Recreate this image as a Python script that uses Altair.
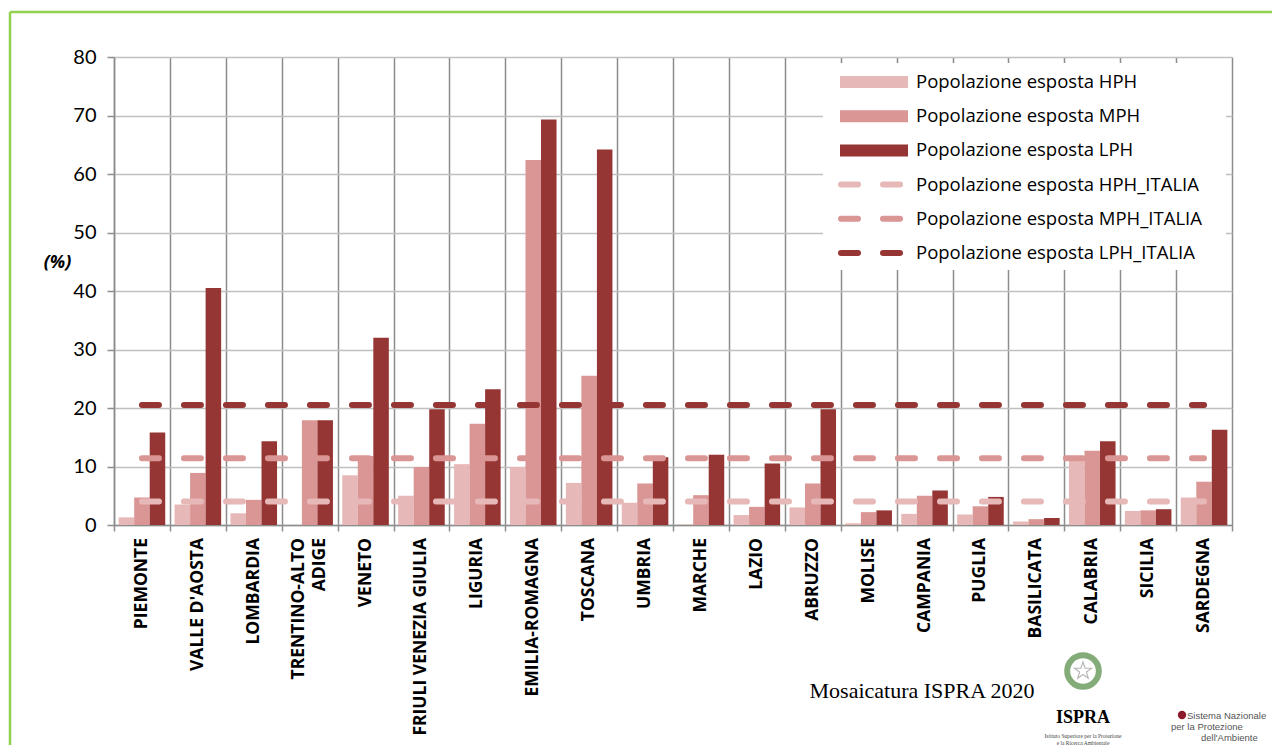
import altair as alt
import pandas as pd

regions = ["PIEMONTE", "VALLE D'AOSTA", "LOMBARDIA", "TRENTINO-ALTO|ADIGE", "VENETO",
           "FRIULI VENEZIA GIULIA", "LIGURIA", "EMILIA-ROMAGNA", "TOSCANA", "UMBRIA",
           "MARCHE", "LAZIO", "ABRUZZO", "MOLISE", "CAMPANIA", "PUGLIA", "BASILICATA",
           "CALABRIA", "SICILIA", "SARDEGNA"]
hph = [1.3, 3.5, 2.0, 0.0, 8.5, 5.0, 10.4, 9.9, 7.2, 3.8, 0.1, 1.7, 3.0, 0.3, 1.9, 1.8, 0.6, 11.3, 2.4, 4.7]
mph = [4.7, 8.9, 4.3, 17.9, 11.8, 9.9, 17.3, 62.4, 25.5, 7.1, 5.1, 3.1, 7.1, 2.2, 5.0, 3.2, 1.0, 12.7, 2.5, 7.4]
lph = [15.8, 40.5, 14.3, 17.9, 32.0, 19.8, 23.2, 69.3, 64.2, 11.6, 12.0, 10.5, 19.8, 2.5, 5.9, 4.8, 1.2, 14.3, 2.7, 16.3]
italia = [4.0, 11.4, 20.5]

bar_series = ["Popolazione esposta HPH", "Popolazione esposta MPH", "Popolazione esposta LPH"]
line_series = ["Popolazione esposta HPH_ITALIA", "Popolazione esposta MPH_ITALIA", "Popolazione esposta LPH_ITALIA"]
palette = ["#E6B8B7", "#DA9694", "#963634"]

bars_df = pd.DataFrame(
    [{"region": r, "series": s, "value": v}
     for s, vals in zip(bar_series, [hph, mph, lph])
     for r, v in zip(regions, vals)]
)
lines_df = pd.DataFrame(
    [{"region": r, "series": s, "value": it}
     for s, it in zip(line_series, italia)
     for r in regions]
)
regions_df = pd.DataFrame({"region": regions})
legend_df = pd.DataFrame({"series": bar_series + line_series, "row": list(range(6))})

color_scale = alt.Scale(domain=bar_series + line_series, range=palette + palette)

FONT = "Open Sans"
GRID_V = "#8c8c8c"
GRID_H = "#c0c0c0"

x_enc = alt.X(
    "region:N", sort=regions,
    scale=alt.Scale(paddingInner=0, paddingOuter=0),
    axis=alt.Axis(
        title=None, labels=False,
        tickBand="extent", tickSize=6, tickColor=GRID_V, tickWidth=1.5,
        grid=True, gridColor=GRID_V, gridWidth=1.5,
        domainColor=GRID_V, domainWidth=1.5,
    ),
)
y_scale = alt.Scale(domain=[0, 80], nice=False)
y_axis = alt.Axis(
    values=list(range(0, 81, 10)), title="(%)",
    labelFont="Lato", labelFontSize=20, labelColor="black", labelPadding=11,
    tickSize=7, tickColor=GRID_V, tickWidth=1.5,
    grid=True, gridColor=GRID_H, gridWidth=1.5,
    domainColor=GRID_V, domainWidth=1.5,
    titleFont=FONT, titleFontSize=18, titleFontStyle="italic", titleFontWeight="bold",
    titleColor="black", titleAngle=0, titleX=-57, titleY=205,
    titleAlign="center", titleBaseline="middle",
)

bars = alt.Chart(bars_df).mark_bar().encode(
    x=x_enc,
    xOffset=alt.XOffset("series:N", sort=bar_series, scale=alt.Scale(paddingInner=0, paddingOuter=0.3)),
    y=alt.Y("value:Q", scale=y_scale, axis=y_axis),
    color=alt.Color("series:N", scale=color_scale, legend=None),
)

lines = alt.Chart(lines_df).mark_line(strokeWidth=6, strokeDash=[17, 25], strokeCap="round").encode(
    x=alt.X("region:N", sort=regions),
    y=alt.Y("value:Q", scale=y_scale),
    color=alt.Color("series:N", scale=color_scale, legend=None),
    detail="series:N",
)

# category labels (rotated), the two-line one centred on its band
lab_style = dict(font=FONT, fontWeight="bold", fontSize=17.5, color="black",
                 angle=270, align="right", baseline="middle", lineBreak="|", lineHeight=21)
labels_single = alt.Chart(regions_df).transform_filter("indexof(datum.region, '|') < 0").mark_text(**lab_style).encode(
    x=alt.X("region:N", sort=regions), y=alt.value(481), text="region:N"
)
labels_multi = alt.Chart(regions_df).transform_filter("indexof(datum.region, '|') >= 0").mark_text(dy=-10.5, **lab_style).encode(
    x=alt.X("region:N", sort=regions), y=alt.value(481), text="region:N"
)

# legend
legend_box = alt.Chart(pd.DataFrame({"k": [0]})).mark_rect(color="white").encode(
    x=alt.value(709), x2=alt.value(1112), y=alt.value(6), y2=alt.value(213)
)
leg_y = alt.Y("row:O", scale=alt.Scale(type="point", range=[25, 196], padding=0), axis=None)
leg_bar = alt.Chart(legend_df).transform_filter("datum.row < 3").mark_rule(strokeWidth=12, strokeCap="butt").encode(
    x=alt.value(726), x2=alt.value(794), y=leg_y,
    color=alt.Color("series:N", scale=color_scale, legend=None),
)
leg_line = alt.Chart(legend_df).transform_filter("datum.row >= 3").mark_rule(
    strokeWidth=6, strokeDash=[17, 25], strokeCap="round").encode(
    x=alt.value(727), x2=alt.value(790), y=leg_y,
    color=alt.Color("series:N", scale=color_scale, legend=None),
)
leg_text = alt.Chart(legend_df).mark_text(align="left", baseline="middle", font=FONT, fontSize=18.5, color="black").encode(
    x=alt.value(802), y=leg_y, text="series:N"
)
legend = alt.layer(legend_box, leg_bar, leg_line, leg_text)


def label(text, x, y, **kw):
    return alt.Chart(pd.DataFrame({"t": [text]})).mark_text(baseline="middle", **kw).encode(
        x=alt.value(x), y=alt.value(y), text="t:N"
    )


# decorations: frame, source note, logos
frame_top = alt.Chart(pd.DataFrame({"k": [0]})).mark_rule(color="#92D050", strokeWidth=2.5).encode(
    x=alt.value(-104), x2=alt.value(1170), y=alt.value(-45)
)
frame_left = alt.Chart(pd.DataFrame({"k": [0]})).mark_rule(color="#92D050", strokeWidth=2.5).encode(
    x=alt.value(-104), y=alt.value(-45), y2=alt.value(700)
)
source = label("Mosaicatura ISPRA 2020", 808, 634, font="Liberation Serif", fontSize=22, align="center", color="black")
emblem = alt.Chart(pd.DataFrame({"k": [0]})).mark_point(
    shape="circle", size=1000, strokeWidth=6, color="#4f8a3f", filled=False).encode(
    x=alt.value(969), y=alt.value(614)
)
star = alt.Chart(pd.DataFrame({"k": [0]})).mark_point(
    shape="M0,-1L0.24,-0.31L0.95,-0.31L0.38,0.12L0.59,0.81L0,0.4L-0.59,0.81L-0.38,0.12L-0.95,-0.31L-0.24,-0.31Z",
    size=320, strokeWidth=1.2, color="#9a9a9a", filled=False).encode(
    x=alt.value(969), y=alt.value(614)
)
ispra = label("ISPRA", 969, 661, font="Liberation Serif", fontSize=18, fontWeight="bold", align="center", color="black")
ispra_1 = label("Istituto Superiore per la Protezione", 969, 679, font="Liberation Serif", fontSize=5.5, align="center", color="#444")
ispra_2 = label("e la Ricerca Ambientale", 969, 686, font="Liberation Serif", fontSize=5.5, align="center", color="#444")
snpa_1 = label("Sistema Nazionale", 1073, 659, font="Liberation Sans", fontSize=9.5, align="left", color="#555")
snpa_2 = label("per la Protezione", 1057, 670, font="Liberation Sans", fontSize=9.5, align="left", color="#555")
snpa_3 = label("dell'Ambiente", 1087, 681, font="Liberation Sans", fontSize=9.5, align="left", color="#555")
snpa_dot = alt.Chart(pd.DataFrame({"k": [0]})).mark_point(shape="circle", size=70, filled=True, color="#8b1a2b", opacity=1).encode(
    x=alt.value(1068), y=alt.value(658)
)
deco = alt.layer(frame_top, frame_left, source, emblem, star, ispra, ispra_1, ispra_2,
                 snpa_dot, snpa_1, snpa_2, snpa_3)

main = alt.layer(bars, lines, labels_single, labels_multi)

chart = alt.layer(main, legend, deco).resolve_scale(y="independent").properties(
    width=1118, height=468,
    autosize=alt.AutoSizeParams(type="none"),
    padding={"left": 106, "top": 49, "right": 40, "bottom": 220},
).configure_view(stroke="transparent")

chart.save("out.html", embed_options={"renderer": "svg", "actions": False})
